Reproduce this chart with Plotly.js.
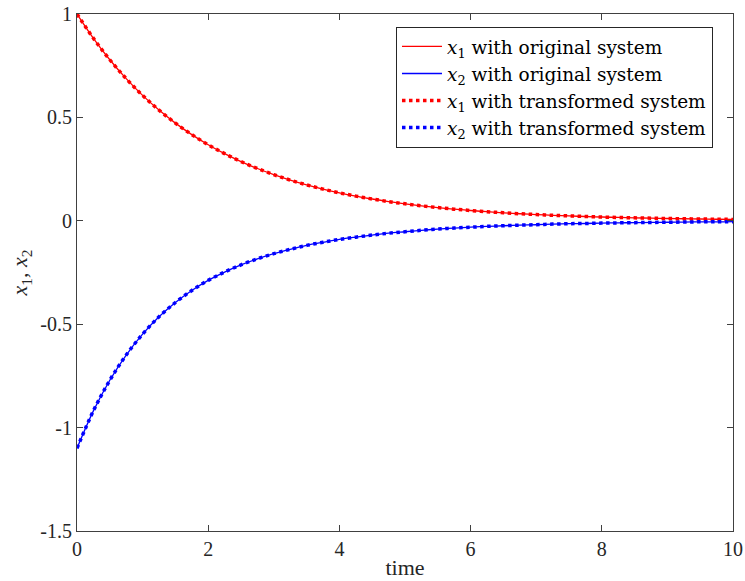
<!DOCTYPE html>
<html>
<head>
<meta charset="utf-8">
<script src="https://cdn.plot.ly/plotly-3.0.1.min.js"></script>
<style>html,body{margin:0;padding:0;background:#fff;}#chart{width:745px;height:581px;}</style>
</head>
<body>
<div id="chart"></div>
<script>
var time = [0,0.25,0.5,0.75,1,1.25,1.5,1.75,2,2.25,2.5,2.75,3,3.25,3.5,3.75,4,4.25,4.5,4.75,5,5.25,5.5,5.75,6,6.25,6.5,6.75,7,7.25,7.5,7.75,8,8.25,8.5,8.75,9,9.25,9.5,9.75,10];
var x1Values = [1.000,0.8825,0.7788,0.6873,0.6065,0.5353,0.4724,0.4169,0.3679,0.3247,0.2865,0.2528,0.2231,0.1969,0.1738,0.1534,0.1353,0.1194,0.1054,0.0930,0.0821,0.0724,0.0639,0.0564,0.0498,0.0439,0.0388,0.0342,0.0302,0.0266,0.0235,0.0208,0.0183,0.0162,0.0143,0.0126,0.0111,0.0098,0.0087,0.0076,0.0067];
var x2Values = [-1.100,-0.919,-0.771,-0.649,-0.548,-0.464,-0.395,-0.337,-0.288,-0.248,-0.213,-0.184,-0.159,-0.138,-0.119,-0.104,-0.090,-0.079,-0.069,-0.060,-0.053,-0.046,-0.040,-0.035,-0.031,-0.027,-0.024,-0.021,-0.019,-0.016,-0.014,-0.013,-0.011,-0.010,-0.009,-0.008,-0.007,-0.006,-0.005,-0.005,-0.004];
var seriesNames = ['<i>x</i><sub>1</sub> with original system','<i>x</i><sub>2</sub> with original system','<i>x</i><sub>1</sub> with transformed system','<i>x</i><sub>2</sub> with transformed system'];
var xTicks = [0,2,4,6,8,10];
var yTicks = [-1.5,-1,-0.5,0,0.5,1];
var yTickText = ['-1.5','-1','-0.5','0','0.5','1'];

var fontFam = 'Liberation Serif, serif';
var legendFam = 'DejaVu Serif, serif';
var traces = [
  {x: time, y: x1Values, name: seriesNames[0], mode:'lines', line:{color:'#ff0000', width:1.3, shape:'spline'}},
  {x: time, y: x2Values, name: seriesNames[1], mode:'lines', line:{color:'#0000ff', width:1.3, shape:'spline'}},
  {x: time, y: x1Values, name: seriesNames[2], mode:'lines', line:{color:'#ff0000', width:3.5, dash:'dot', shape:'spline'}},
  {x: time, y: x2Values, name: seriesNames[3], mode:'lines', line:{color:'#0000ff', width:3.5, dash:'dot', shape:'spline'}}
];
var axisCommon = {
  showgrid:false, zeroline:false, showline:true, mirror:'ticks',
  linecolor:'#404040', linewidth:1, ticks:'inside', ticklen:6, tickcolor:'#404040',
  tickfont:{family:fontFam, size:20, color:'#262626'}
};
var layout = {
  width:745, height:581,
  margin:{l:77, r:12, t:14, b:50},
  paper_bgcolor:'#fff', plot_bgcolor:'#fff',
  font:{family:fontFam, size:19, color:'#262626'},
  showlegend:true,
  legend:{x:0.9695, xanchor:'right', y:0.975, yanchor:'top', bgcolor:'#fff', bordercolor:'#262626', borderwidth:1,
          font:{family:legendFam, size:18.5, color:'#000'}, tracegroupgap:0, itemwidth:40},
  xaxis: Object.assign({}, axisCommon, {range:[0,10], tickvals:xTicks, ticktext:xTicks.map(String),
          title:{text:'time', font:{family:fontFam, size:22, color:'#262626'}, standoff:0}}),
  yaxis: Object.assign({}, axisCommon, {range:[-1.5,1], tickvals:yTicks, ticktext:yTickText,
          title:{text:'<i>x</i><sub>1</sub>, <i>x</i><sub>2</sub>', font:{family:fontFam, size:22, color:'#262626'}, standoff:6}})
};
Plotly.newPlot('chart', traces, layout, {displayModeBar:false, staticPlot:true});
</script>
</body>
</html>
